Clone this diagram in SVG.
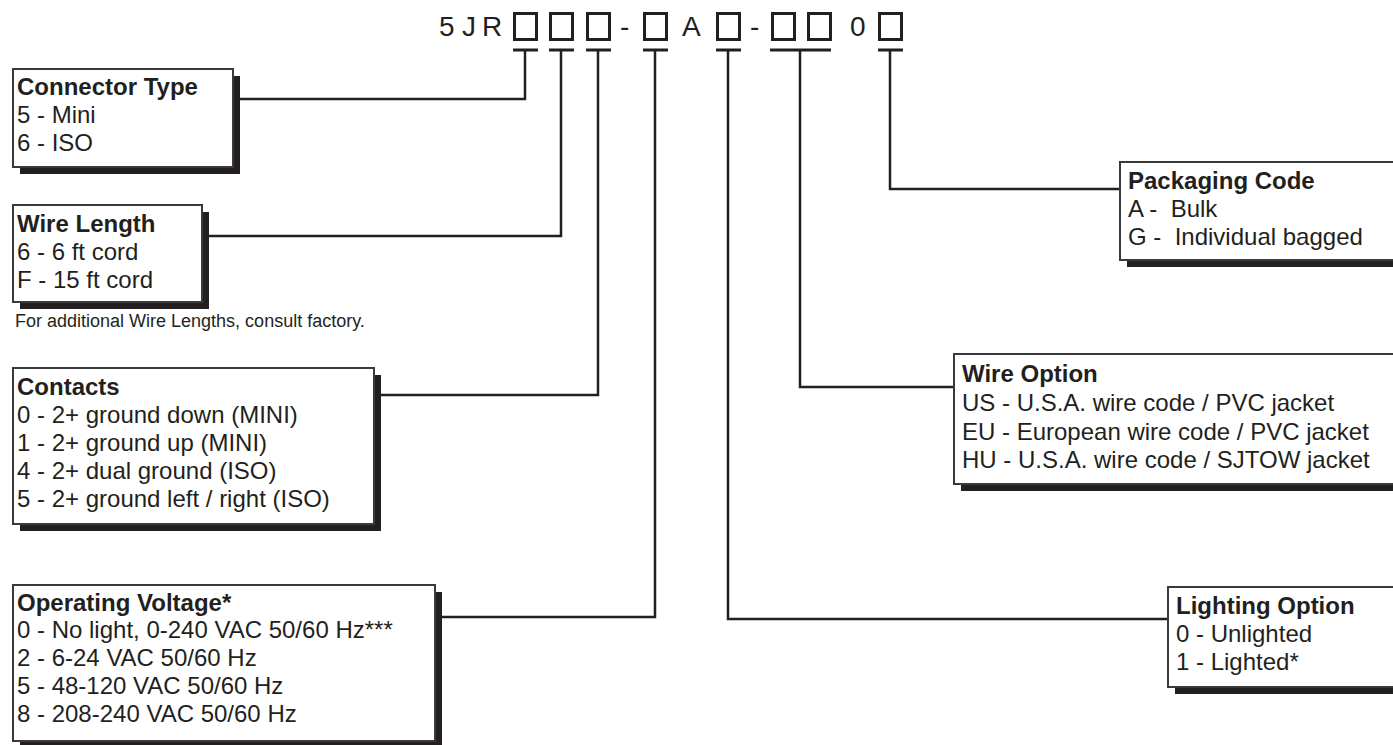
<svg xmlns="http://www.w3.org/2000/svg" width="1393" height="745" viewBox="0 0 1393 745">
<style>
text{font-family:"Liberation Sans",Arial,sans-serif;fill:#231f20;white-space:pre}
.t{font-size:24px;font-weight:bold}
.r{font-size:24px}
.code{font-size:28px}
.note{font-size:18px}
.box{fill:#fff;stroke:#3a3a3a;stroke-width:2}
.sh{fill:#231f20}
.sq{fill:none;stroke:#231f20;stroke-width:3}
.bar{fill:none;stroke:#231f20;stroke-width:3}
.con{fill:none;stroke:#231f20;stroke-width:2.5}
</style>
<rect width="1393" height="745" fill="#fff"/>
<g id="code">
<text class="code" x="439" y="36">5</text>
<text class="code" x="462" y="36">J</text>
<text class="code" x="482" y="36">R</text>
<text class="code" x="620" y="36">-</text>
<text class="code" x="682" y="36">A</text>
<text class="code" x="750" y="36">-</text>
<text class="code" x="850" y="36">0</text>
<rect class="sq" x="514.5" y="13.5" width="22" height="26"/>
<rect class="sq" x="550.5" y="13.5" width="22" height="26"/>
<rect class="sq" x="587.5" y="13.5" width="22" height="26"/>
<rect class="sq" x="644.5" y="13.5" width="22" height="26"/>
<rect class="sq" x="717.5" y="13.5" width="22" height="26"/>
<rect class="sq" x="772.5" y="13.5" width="22" height="26"/>
<rect class="sq" x="808.5" y="13.5" width="22" height="26"/>
<rect class="sq" x="879.5" y="13.5" width="22" height="26"/>
<path class="bar" d="M513,50H538M549,50H574M586,50H611M643,50H668M716,50H741M770,50H831M878,50H903"/>
</g>
<g id="connectors">
<path class="con" d="M525,50V99H240"/>
<path class="con" d="M561,50V236H209"/>
<path class="con" d="M598,50V395H381"/>
<path class="con" d="M655,50V617H442"/>
<path class="con" d="M728,50V619H1168"/>
<path class="con" d="M800,50V387H954"/>
<path class="con" d="M890,50V189H1120"/>
</g>
<g id="connector-type">
<rect class="sh" x="20" y="76" width="220" height="98"/>
<rect class="box" x="13" y="69" width="220" height="98"/>
<text class="t" x="17" y="95">Connector Type</text>
<text class="r" x="17" y="123">5 - Mini</text>
<text class="r" x="17" y="151">6 - ISO</text>
</g>
<g id="wire-length">
<rect class="sh" x="20" y="212" width="189" height="97"/>
<rect class="box" x="13" y="205" width="189" height="97"/>
<text class="t" x="17" y="232">Wire Length</text>
<text class="r" x="17" y="260">6 - 6 ft cord</text>
<text class="r" x="17" y="288">F - 15 ft cord</text>
</g>
<text class="note" x="15" y="327">For additional Wire Lengths, consult factory.</text>
<g id="contacts">
<rect class="sh" x="20" y="375" width="361" height="156"/>
<rect class="box" x="13" y="368" width="361" height="156"/>
<text class="t" x="17" y="395">Contacts</text>
<text class="r" x="17" y="423">0 - 2+ ground down (MINI)</text>
<text class="r" x="17" y="451">1 - 2+ ground up (MINI)</text>
<text class="r" x="17" y="479">4 - 2+ dual ground (ISO)</text>
<text class="r" x="17" y="507">5 - 2+ ground left / right (ISO)</text>
</g>
<g id="operating-voltage">
<rect class="sh" x="20" y="592" width="422" height="156"/>
<rect class="box" x="13" y="585" width="422" height="156"/>
<text class="t" x="17" y="611">Operating Voltage*</text>
<text class="r" x="17" y="638">0 - No light, 0-240 VAC 50/60 Hz***</text>
<text class="r" x="17" y="666">2 - 6-24 VAC 50/60 Hz</text>
<text class="r" x="17" y="694">5 - 48-120 VAC 50/60 Hz</text>
<text class="r" x="17" y="722">8 - 208-240 VAC 50/60 Hz</text>
</g>
<g id="packaging-code">
<rect class="sh" x="1127" y="169" width="280" height="98"/>
<rect class="box" x="1120" y="162" width="280" height="98"/>
<text class="t" x="1128" y="189">Packaging Code</text>
<text class="r" x="1128" y="217">A -  Bulk</text>
<text class="r" x="1128" y="245">G -  Individual bagged</text>
</g>
<g id="wire-option">
<rect class="sh" x="961" y="361" width="450" height="130"/>
<rect class="box" x="954" y="354" width="450" height="130"/>
<text class="t" x="962" y="382">Wire Option</text>
<text class="r" x="962" y="411">US - U.S.A. wire code / PVC jacket</text>
<text class="r" x="962" y="440">EU - European wire code / PVC jacket</text>
<text class="r" x="962" y="468">HU - U.S.A. wire code / SJTOW jacket</text>
</g>
<g id="lighting-option">
<rect class="sh" x="1175" y="594" width="240" height="100"/>
<rect class="box" x="1168" y="587" width="240" height="100"/>
<text class="t" x="1176" y="614">Lighting Option</text>
<text class="r" x="1176" y="642">0 - Unlighted</text>
<text class="r" x="1176" y="670">1 - Lighted*</text>
</g>
</svg>
